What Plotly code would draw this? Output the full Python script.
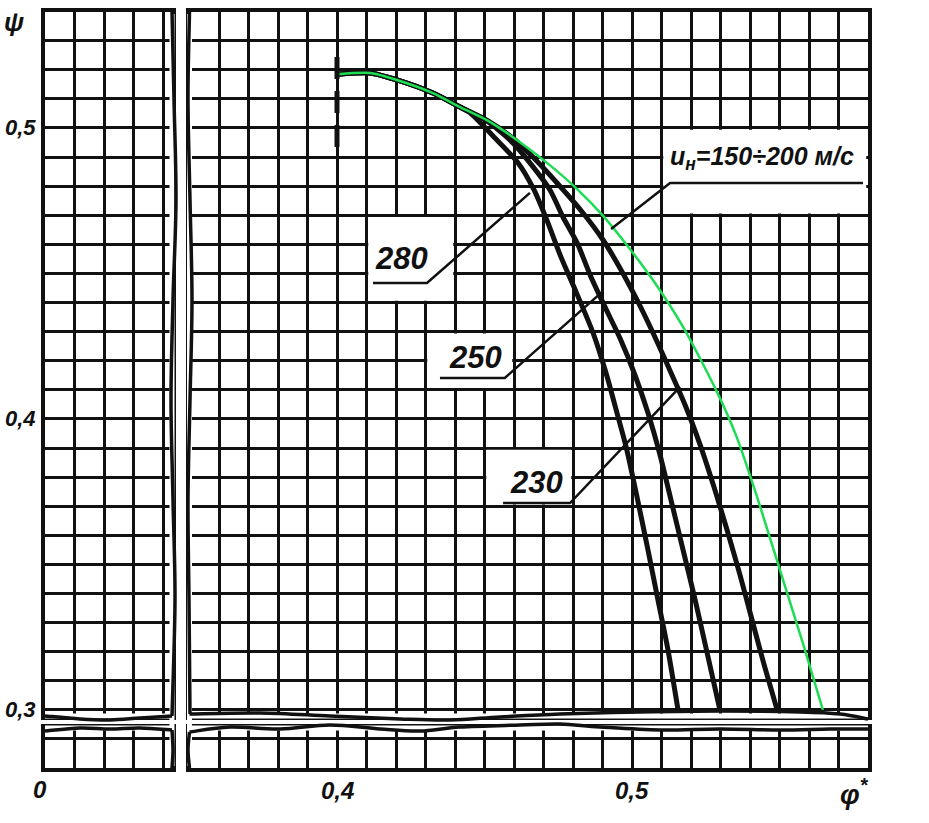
import plotly.graph_objects as go

W, H = 929, 823

# ---------------- data ----------------
# top curve, u_H = 150÷200 m/s (green)
phi_150_200 = [0.4003, 0.4112, 0.4203, 0.4325, 0.4417, 0.4508, 0.4610, 0.4712, 0.4814,
               0.4902, 0.4993, 0.5078, 0.5173, 0.5288, 0.5356, 0.5424, 0.5512, 0.5580, 0.5647]
psi_150_200 = [0.5185, 0.5189, 0.5165, 0.5120, 0.5072, 0.5027, 0.4959, 0.4880, 0.4790,
               0.4698, 0.4584, 0.4467, 0.4316, 0.4093, 0.3935, 0.3732, 0.3447, 0.3227, 0.3000]

# u_H = 230 m/s
phi_230 = [0.4003, 0.4112, 0.4203, 0.4325, 0.4417, 0.4508, 0.4600, 0.4664, 0.4746, 0.4834,
           0.4902, 0.4959, 0.5017, 0.5071, 0.5125, 0.5180, 0.5231, 0.5278, 0.5322, 0.5366,
           0.5407, 0.5447, 0.5492]
psi_230 = [0.5185, 0.5189, 0.5165, 0.5120, 0.5072, 0.5027, 0.4962, 0.4900, 0.4811, 0.4708,
           0.4615, 0.4519, 0.4409, 0.4296, 0.4175, 0.4048, 0.3911, 0.3766, 0.3619, 0.3464,
           0.3309, 0.3158, 0.3000]

# u_H = 250 m/s
phi_250 = [0.4003, 0.4112, 0.4203, 0.4325, 0.4417, 0.4508, 0.4597, 0.4654, 0.4722, 0.4766,
           0.4814, 0.4858, 0.4905, 0.4959, 0.5010, 0.5054, 0.5095, 0.5132, 0.5173, 0.5214,
           0.5254, 0.5298]
psi_250 = [0.5185, 0.5189, 0.5165, 0.5120, 0.5072, 0.5024, 0.4948, 0.4880, 0.4787, 0.4694,
           0.4605, 0.4495, 0.4392, 0.4278, 0.4151, 0.4021, 0.3876, 0.3722, 0.3550, 0.3378,
           0.3199, 0.3000]

# u_H = 280 m/s
phi_280 = [0.4003, 0.4112, 0.4203, 0.4325, 0.4417, 0.4451, 0.4532, 0.4614, 0.4668, 0.4715,
           0.4759, 0.4803, 0.4868, 0.4912, 0.4949, 0.4980, 0.5017, 0.5054, 0.5088, 0.5122,
           0.5156]
psi_280 = [0.5185, 0.5189, 0.5165, 0.5120, 0.5072, 0.5052, 0.4969, 0.4880, 0.4787, 0.4674,
           0.4557, 0.4454, 0.4296, 0.4158, 0.4021, 0.3904, 0.3732, 0.3550, 0.3378, 0.3206,
           0.3000]

# dashed start marker at phi* = 0.40
marker_phi = [0.40, 0.40]
marker_psi = [0.4935, 0.5270]

# curve labels
curve_labels = ["280", "250", "230"]
label_phi = [0.4220, 0.4471, 0.4675]
label_psi = [0.4553, 0.4210, 0.3783]
top_label = "u<sub>н</sub>=150÷200 м/с"
top_label_phi = 0.5441
top_label_psi = 0.4897

# leader lines: underline start, underline end, end on curve
leader_u0 = [0.4122, 0.4349, 0.4563, 0.5783]
leader_u1 = [0.4305, 0.4569, 0.4790, 0.5129]
leader_uy = [0.4467, 0.4141, 0.3711, 0.4811]
leader_ex = [0.4654, 0.4898, 0.5163, 0.4929]
leader_ey = [0.4777, 0.4436, 0.4110, 0.4653]

# white label boxes (grid cells cleared)
box_x0 = [0.41, 0.43, 0.45, 0.51]
box_x1 = [0.44, 0.46, 0.48, 0.58]
box_y0 = [0.44, 0.41, 0.37, 0.47]
box_y1 = [0.47, 0.43, 0.39, 0.50]

# ticks
y_tick_vals = [0.3, 0.4, 0.5]
y_tick_text = ["0,3", "0,4", "0,5"]
x_tick_vals_left = [0.0]
x_tick_text_left = ["0"]
x_tick_vals_right = [0.4, 0.5]
x_tick_text_right = ["0,4", "0,5"]

# ---------------- styling ----------------
FONT = "Liberation Sans, Arial, sans-serif"
INK = "#111111"
GREEN = "#1fdc55"
GRIDW = 3
EDGEW = 3.5

# hand-drawn break edges (page pixels)
edge_top_bottom_left = [(45, 716), (80, 719), (110, 720), (140, 718), (172, 716)]
edge_top_bottom_right = [(189.5, 714), (260, 713), (330, 716), (400, 719), (450, 720),
                         (500, 717), (560, 714), (640, 712), (720, 711), (800, 712),
                         (840, 714), (868, 719)]
edge_bot_top_left = [(45, 731), (80, 728), (110, 729), (140, 728), (172, 730)]
edge_bot_top_right = [(189.5, 732), (230, 727), (280, 729), (330, 725), (380, 729),
                      (420, 731), (460, 727), (520, 725), (560, 724), (600, 727),
                      (660, 730), (720, 729), (780, 730), (830, 729), (868, 729)]
edge_left_right = [(172, 11.6), (174, 100), (176, 200), (173, 300), (171, 400),
                   (173, 500), (175, 600), (172, 716)]
edge_right_left = [(189.5, 11.6), (188, 100), (190, 200), (192, 300), (190, 400),
                   (188, 500), (189, 600), (190, 714)]
edge_botleft_right = [(172, 730), (173, 750), (172, 768)]
edge_botright_left = [(189.5, 732), (188, 750), (189.5, 768)]
# straight frame pieces hidden under the hand-drawn edges (page pixels)
erase_segments = [((45, 716), (172, 716)), ((189.5, 716), (868, 716)),
                  ((45, 728), (172, 728)), ((189.5, 728), (868, 728)),
                  ((172, 14), (172, 766)), ((189.5, 14), (189.5, 766))]


def px_x(p):
    return p / W


def px_y(p):
    return 1 - p / H


def smooth_path(pts):
    """Catmull-Rom through page-pixel points, written in paper coordinates."""
    P = [(px_x(a), px_y(b)) for a, b in pts]
    d = f"M {P[0][0]:.5f},{P[0][1]:.5f}"
    for i in range(len(P) - 1):
        p0 = P[i - 1] if i > 0 else P[i]
        p1, p2 = P[i], P[i + 1]
        p3 = P[i + 2] if i + 2 < len(P) else P[i + 1]
        c1 = (p1[0] + (p2[0] - p0[0]) / 6, p1[1] + (p2[1] - p0[1]) / 6)
        c2 = (p2[0] - (p3[0] - p1[0]) / 6, p2[1] - (p3[1] - p1[1]) / 6)
        d += (f" C {c1[0]:.5f},{c1[1]:.5f} {c2[0]:.5f},{c2[1]:.5f}"
              f" {p2[0]:.5f},{p2[1]:.5f}")
    return d


fig = go.Figure()

curve_sets = [(phi_280, psi_280), (phi_250, psi_250), (phi_230, psi_230)]
for (xs, ys) in curve_sets:
    fig.add_trace(go.Scatter(x=xs, y=ys, xaxis="x2", yaxis="y2", mode="lines",
                             line=dict(color=INK, width=5, shape="spline", smoothing=0.7),
                             hoverinfo="skip", showlegend=False))

fig.add_trace(go.Scatter(x=phi_150_200, y=psi_150_200, xaxis="x2", yaxis="y2", mode="lines",
                         line=dict(color=GREEN, width=2.5, shape="spline", smoothing=0.7),
                         hoverinfo="skip", showlegend=False))

fig.add_trace(go.Scatter(x=marker_phi, y=marker_psi, xaxis="x2", yaxis="y2", mode="lines",
                         line=dict(color=INK, width=5, dash="22px,12px"),
                         hoverinfo="skip", showlegend=False))


def axis(domain, rng, anchor):
    return dict(domain=domain, range=rng, anchor=anchor, showline=True, linecolor=INK,
                linewidth=EDGEW, mirror=True, zeroline=False, ticks="", fixedrange=True,
                tickmode="linear", tick0=0, dtick=0.01, showticklabels=False,
                showgrid=True, gridcolor=INK, gridwidth=GRIDW)


left_dom = [px_x(45), px_x(172)]
right_dom = [px_x(189.5), px_x(868)]
top_dom = [px_y(716), px_y(11.6)]
bot_dom = [px_y(768), px_y(728)]

left_rng = [0, 0.043]
right_rng = [0.35, 0.58]
top_rng = [0.2979, 0.54]
bot_rng = [0, 0.0137]

fig.update_layout(
    width=W, height=H,
    margin=dict(l=0, r=0, t=0, b=0),
    paper_bgcolor="white", plot_bgcolor="white",
    showlegend=False,
    xaxis=axis(left_dom, left_rng, "y"),
    yaxis=axis(top_dom, top_rng, "x"),
    xaxis2=axis(right_dom, right_rng, "y2"),
    yaxis2=axis(top_dom, top_rng, "x2"),
    xaxis3=axis(left_dom, left_rng, "y3"),
    yaxis3=axis(bot_dom, bot_rng, "x3"),
    xaxis4=axis(right_dom, right_rng, "y4"),
    yaxis4=axis(bot_dom, bot_rng, "x4"),
)

shapes = []
eps = 0.0006
for x0, x1, y0, y1 in zip(box_x0, box_x1, box_y0, box_y1):
    shapes.append(dict(type="rect", xref="x2", yref="y2", x0=x0 + eps, x1=x1 - eps,
                       y0=y0 + eps, y1=y1 - eps, fillcolor="white",
                       line=dict(width=0), layer="between"))
for (a, b) in erase_segments:
    shapes.append(dict(type="line", xref="paper", yref="paper",
                       x0=px_x(a[0]), y0=px_y(a[1]), x1=px_x(b[0]), y1=px_y(b[1]),
                       line=dict(color="white", width=5), layer="above"))
for u0, u1, uy, ex, ey in zip(leader_u0, leader_u1, leader_uy, leader_ex, leader_ey):
    shapes.append(dict(type="path", xref="x2", yref="y2",
                       path=f"M {u0},{uy} L {u1},{uy} L {ex},{ey}",
                       line=dict(color=INK, width=2.5), layer="above"))
for edge in [edge_top_bottom_left, edge_top_bottom_right, edge_bot_top_left,
             edge_bot_top_right, edge_left_right, edge_right_left,
             edge_botleft_right, edge_botright_left]:
    shapes.append(dict(type="path", xref="paper", yref="paper", path=smooth_path(edge),
                       line=dict(color=INK, width=EDGEW), layer="above"))
fig.update_layout(shapes=shapes)


def fnt(size):
    return dict(family=FONT, size=size, color=INK, style="italic", weight="bold")


annotations = []
for t, xv, yv in zip(curve_labels, label_phi, label_psi):
    annotations.append(dict(x=xv, y=yv, xref="x2", yref="y2", text=t, showarrow=False,
                            xanchor="center", yanchor="middle", font=fnt(31)))
annotations.append(dict(x=top_label_phi, y=top_label_psi, xref="x2", yref="y2",
                        text=top_label, showarrow=False, xanchor="center", yanchor="middle",
                        font=fnt(25)))
# tick labels of the broken axes
for v, t in zip(y_tick_vals, y_tick_text):
    annotations.append(dict(x=px_x(20), y=v, xref="paper", yref="y", text=t,
                            showarrow=False, xanchor="center", yanchor="middle",
                            font=fnt(22)))
for v, t in zip(x_tick_vals_left, x_tick_text_left):
    annotations.append(dict(x=v, y=px_y(789), xref="x3", yref="paper", text=t,
                            xshift=-5, showarrow=False, xanchor="center",
                            yanchor="middle", font=fnt(24)))
for v, t in zip(x_tick_vals_right, x_tick_text_right):
    annotations.append(dict(x=v, y=px_y(790), xref="x4", yref="paper", text=t,
                            showarrow=False, xanchor="center", yanchor="middle",
                            font=fnt(24)))
annotations.append(dict(x=px_x(14), y=px_y(22), xref="paper", yref="paper", text="ψ",
                        showarrow=False, xanchor="center", yanchor="middle", font=fnt(26)))
annotations.append(dict(x=px_x(854), y=px_y(792), xref="paper", yref="paper",
                        text="φ<sup>*</sup>", showarrow=False, xanchor="center",
                        yanchor="middle", font=fnt(28)))
fig.update_layout(annotations=annotations)

fig.write_html("out.html", config={"displayModeBar": False},
               post_script="document.body.style.margin='0';document.body.style.padding='0';")
